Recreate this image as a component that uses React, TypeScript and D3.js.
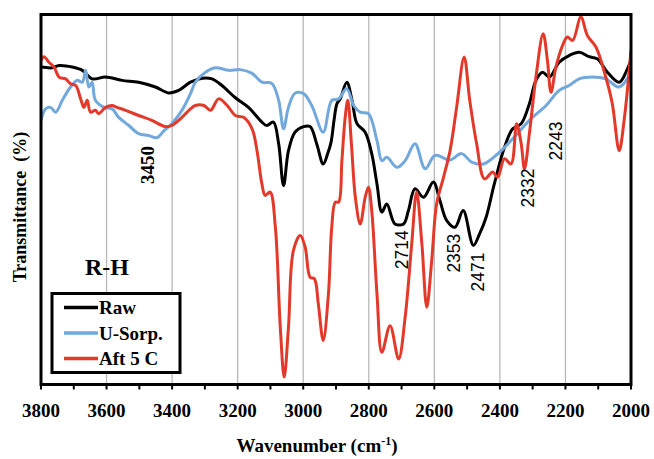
import React from "react";
import * as d3 from "d3";

type Pt = [number, number];

const rawData: Pt[] = [
  [3800, 85.8], [3766, 85.6], [3745, 86.2], [3705, 85.8], [3674, 84.9], [3644, 82.6], [3603, 83.1],
  [3553, 82.2], [3502, 81.7], [3451, 80.4], [3411, 78.8], [3380, 79.5], [3344, 81.7], [3308, 82.8],
  [3278, 82.6], [3248, 80.8], [3207, 77.5], [3167, 74.9], [3126, 70.9], [3111, 70], [3091, 70.9],
  [3075, 65.1], [3060, 53.8], [3045, 63.2], [3025, 68.2], [2999, 69.7], [2979, 69.7], [2959, 65.1],
  [2939, 59.6], [2925, 62.5], [2915, 65.5], [2906, 71.4], [2897, 75.9], [2887, 77.2], [2867, 81.7],
  [2851, 76.8], [2836, 70.5], [2811, 68.2], [2791, 62.4], [2775, 54.2], [2760, 46.6], [2745, 48.8],
  [2720, 43.4], [2694, 43.4], [2679, 47], [2659, 52.9], [2633, 50.6], [2603, 54.7], [2583, 49.7],
  [2562, 44.3], [2537, 42.5], [2512, 47], [2481, 37.6], [2462, 40.7], [2442, 45.2], [2417, 54.2],
  [2386, 64.1], [2361, 69.1], [2335, 70.5], [2310, 75.9], [2290, 82.2], [2270, 84.4], [2249, 83.1],
  [2219, 87.1], [2189, 88.9], [2158, 89.8], [2128, 88.6], [2102, 88], [2072, 84.4], [2036, 81.7],
  [2011, 85.3], [2000, 87.6],
];

const usorpData: Pt[] = [
  [3800, 71.4], [3786, 74.5], [3771, 74.9], [3755, 73.6], [3735, 76.8], [3710, 80.4], [3690, 82.2],
  [3674, 81.7], [3664, 84.9], [3654, 80.4], [3644, 81.7], [3634, 76.8], [3608, 74.9], [3583, 74.5],
  [3563, 72.2], [3532, 70], [3502, 67.8], [3472, 67.3], [3446, 66.7], [3426, 68.5], [3401, 70.5],
  [3370, 74.1], [3344, 78.6], [3329, 81.7], [3298, 84.4], [3268, 85.6], [3227, 84.9], [3192, 85.1],
  [3156, 84.1], [3126, 81.7], [3096, 81.4], [3075, 76.8], [3060, 69.1], [3045, 74.9], [3025, 78.7],
  [2999, 78.6], [2974, 75.4], [2939, 68.2], [2913, 76.8], [2892, 77.2], [2867, 79.9], [2846, 75.4],
  [2826, 73.6], [2801, 73.2], [2775, 65.9], [2760, 60.5], [2745, 61.4], [2714, 58.7], [2689, 60.5],
  [2659, 65.1], [2628, 58.3], [2598, 61.9], [2552, 60.7], [2517, 62.4], [2486, 60.1], [2450, 59.6],
  [2401, 62.8], [2361, 66.4], [2310, 71.4], [2259, 75.4], [2219, 79.5], [2189, 80.8], [2158, 82.6],
  [2118, 83.1], [2077, 82.6], [2036, 80.4], [2000, 84.4],
];

const aftData: Pt[] = [
  [3800, 87.6], [3791, 88.6], [3776, 87.1], [3760, 85.8], [3745, 83.1], [3725, 82.6], [3710, 81.3],
  [3694, 80.8], [3679, 77.2], [3669, 74.9], [3659, 76.8], [3649, 73.6], [3634, 74.1], [3624, 73.2],
  [3603, 74.9], [3583, 75.4], [3568, 74.9], [3542, 74.1], [3502, 72.7], [3462, 71.4], [3421, 69.7],
  [3401, 70], [3370, 72.2], [3344, 74.5], [3329, 75.4], [3303, 75.4], [3283, 74.1], [3258, 77.2],
  [3232, 75.4], [3207, 72.7], [3182, 72.2], [3156, 69.1], [3141, 63.2], [3126, 54.2], [3116, 51.1],
  [3101, 52], [3085, 42.5], [3070, 15.5], [3058, 2], [3045, 15.5], [3030, 36.2], [3009, 40.3],
  [2994, 37.1], [2979, 29], [2966, 28.6], [2954, 21.8], [2939, 11.9], [2923, 24.5], [2913, 42.5],
  [2902, 49.3], [2892, 49.3], [2882, 60.5], [2872, 72.2], [2864, 76.8], [2853, 65.1], [2841, 50.6],
  [2826, 43.4], [2811, 50.6], [2801, 53.3], [2791, 47], [2775, 24.5], [2760, 8.7], [2735, 15.9],
  [2709, 6.9], [2689, 18.2], [2669, 38], [2654, 52], [2638, 38], [2623, 20.9], [2608, 33.5],
  [2593, 48.8], [2572, 56], [2552, 63.2], [2532, 74.9], [2509, 88.5], [2492, 76.8], [2471, 65.1],
  [2447, 55.6], [2422, 57.4], [2407, 56], [2386, 61], [2366, 59.6], [2349, 70.5], [2335, 65.1],
  [2325, 58.3], [2310, 67.8], [2290, 83.1], [2268, 94.8], [2255, 87.6], [2244, 79], [2229, 85.8],
  [2209, 91.6], [2194, 93.9], [2178, 93], [2153, 99.3], [2133, 94.3], [2107, 91.2], [2077, 83.1],
  [2057, 75.9], [2036, 63.2], [2021, 71.4], [2000, 90.3],
];

const seriesNames = ["Raw", "U-Sorp.", "Aft 5 C"];
const seriesColors = ["#000000", "#72A8DC", "#E3392B"];
const seriesData = [rawData, usorpData, aftData];

const xTicks = [3800, 3600, 3400, 3200, 3000, 2800, 2600, 2400, 2200, 2000];
const xMinorTicks = [3700, 3500, 3300, 3100, 2900, 2700, 2500, 2300, 2100];

// peak annotation texts and where they sit on the chart (wavenumber, transmittance of text centre)
const peakLabels = ["3450", "2714", "2353", "2471", "2332", "2243"];
const peakLabelWn = [3474, 2700, 2543, 2467, 2317, 2229];
const peakLabelT = [59.3, 36.4, 35.5, 30.4, 53.1, 65.8];

const W = 654;
const H = 459;
const left = 41;
const right = 631;
const top = 14.5;
const bottom = 384.5;

const serif = "'Liberation Serif', 'Times New Roman', serif";
const sans = "'Liberation Sans', Arial, sans-serif";

export default function App() {
  const x = d3.scaleLinear().domain([3800, 2000]).range([left, right]);
  const y = d3.scaleLinear().domain([0, 100]).range([bottom, top]);
  const line = d3
    .line<Pt>()
    .x((d) => x(d[0]))
    .y((d) => y(d[1]))
    .curve(d3.curveCatmullRom.alpha(0.5));

  return (
    <svg
      width={W}
      height={H}
      style={{ position: "absolute", left: 0, top: 0, background: "#fff" }}
    >
      <defs>
        <clipPath id="plotClip">
          <rect x={left} y={top - 2} width={right - left} height={bottom - top + 2} />
        </clipPath>
      </defs>
      {xTicks.slice(1, -1).map((t) => (
        <line key={"g" + t} x1={x(t)} x2={x(t)} y1={top} y2={bottom} stroke="#b8b8b8" strokeWidth={1.3} />
      ))}
      <g clipPath="url(#plotClip)">
        {seriesData.map((d, i) => (
          <path
            key={seriesNames[i]}
            d={line(d) || ""}
            fill="none"
            stroke={seriesColors[i]}
            strokeWidth={3}
            strokeLinejoin="round"
            strokeLinecap="round"
          />
        ))}
      </g>
      <rect x={left} y={top} width={right - left} height={bottom - top} fill="none" stroke="#000" strokeWidth={3} />
      {xTicks.map((t) => (
        <line key={"t" + t} x1={x(t)} x2={x(t)} y1={bottom} y2={bottom + 5} stroke="#000" strokeWidth={2} />
      ))}
      {xMinorTicks.map((t) => (
        <line key={"m" + t} x1={x(t)} x2={x(t)} y1={bottom} y2={bottom + 5} stroke="#000" strokeWidth={2} />
      ))}
      {xTicks.map((t) => (
        <text key={"l" + t} x={x(t)} y={417} textAnchor="middle" fontFamily={serif} fontWeight="bold" fontSize={19}>
          {t}
        </text>
      ))}
      <text x={317} y={452} textAnchor="middle" fontFamily={serif} fontWeight="bold" fontSize={19}>
        Wavenumber (cm
        <tspan dy={-7} fontSize={12}>-1</tspan>
        <tspan dy={7}>)</tspan>
      </text>
      <text
        transform="translate(26,207) rotate(-90)"
        textAnchor="middle"
        fontFamily={serif}
        fontWeight="bold"
        fontSize={18}
        style={{ whiteSpace: "pre" }}
      >
        {"Transmittance  (%)"}
      </text>
      {peakLabels.map((lab, i) => (
        <text
          key={"p" + lab}
          transform={`translate(${x(peakLabelWn[i]) + 6.5},${y(peakLabelT[i])}) rotate(-90)`}
          textAnchor="middle"
          fontFamily={i === 0 ? serif : sans}
          fontWeight={i === 0 ? "bold" : "normal"}
          fontSize={i === 0 ? 19 : 17.5}
        >
          {lab}
        </text>
      ))}
      <text x={107} y={275} textAnchor="middle" fontFamily={serif} fontWeight="bold" fontSize={24}>
        R-H
      </text>
      <rect x={52} y={293.5} width={128} height={79} fill="#fff" stroke="#000" strokeWidth={3} />
      {seriesNames.map((n, i) => (
        <g key={"lg" + n}>
          <line
            x1={64}
            x2={98}
            y1={307.5 + i * 25.5}
            y2={307.5 + i * 25.5}
            stroke={seriesColors[i]}
            strokeWidth={3.5}
          />
          <text x={99} y={314 + i * 25.5} fontFamily={serif} fontWeight="bold" fontSize={19}>
            {n}
          </text>
        </g>
      ))}
    </svg>
  );
}
